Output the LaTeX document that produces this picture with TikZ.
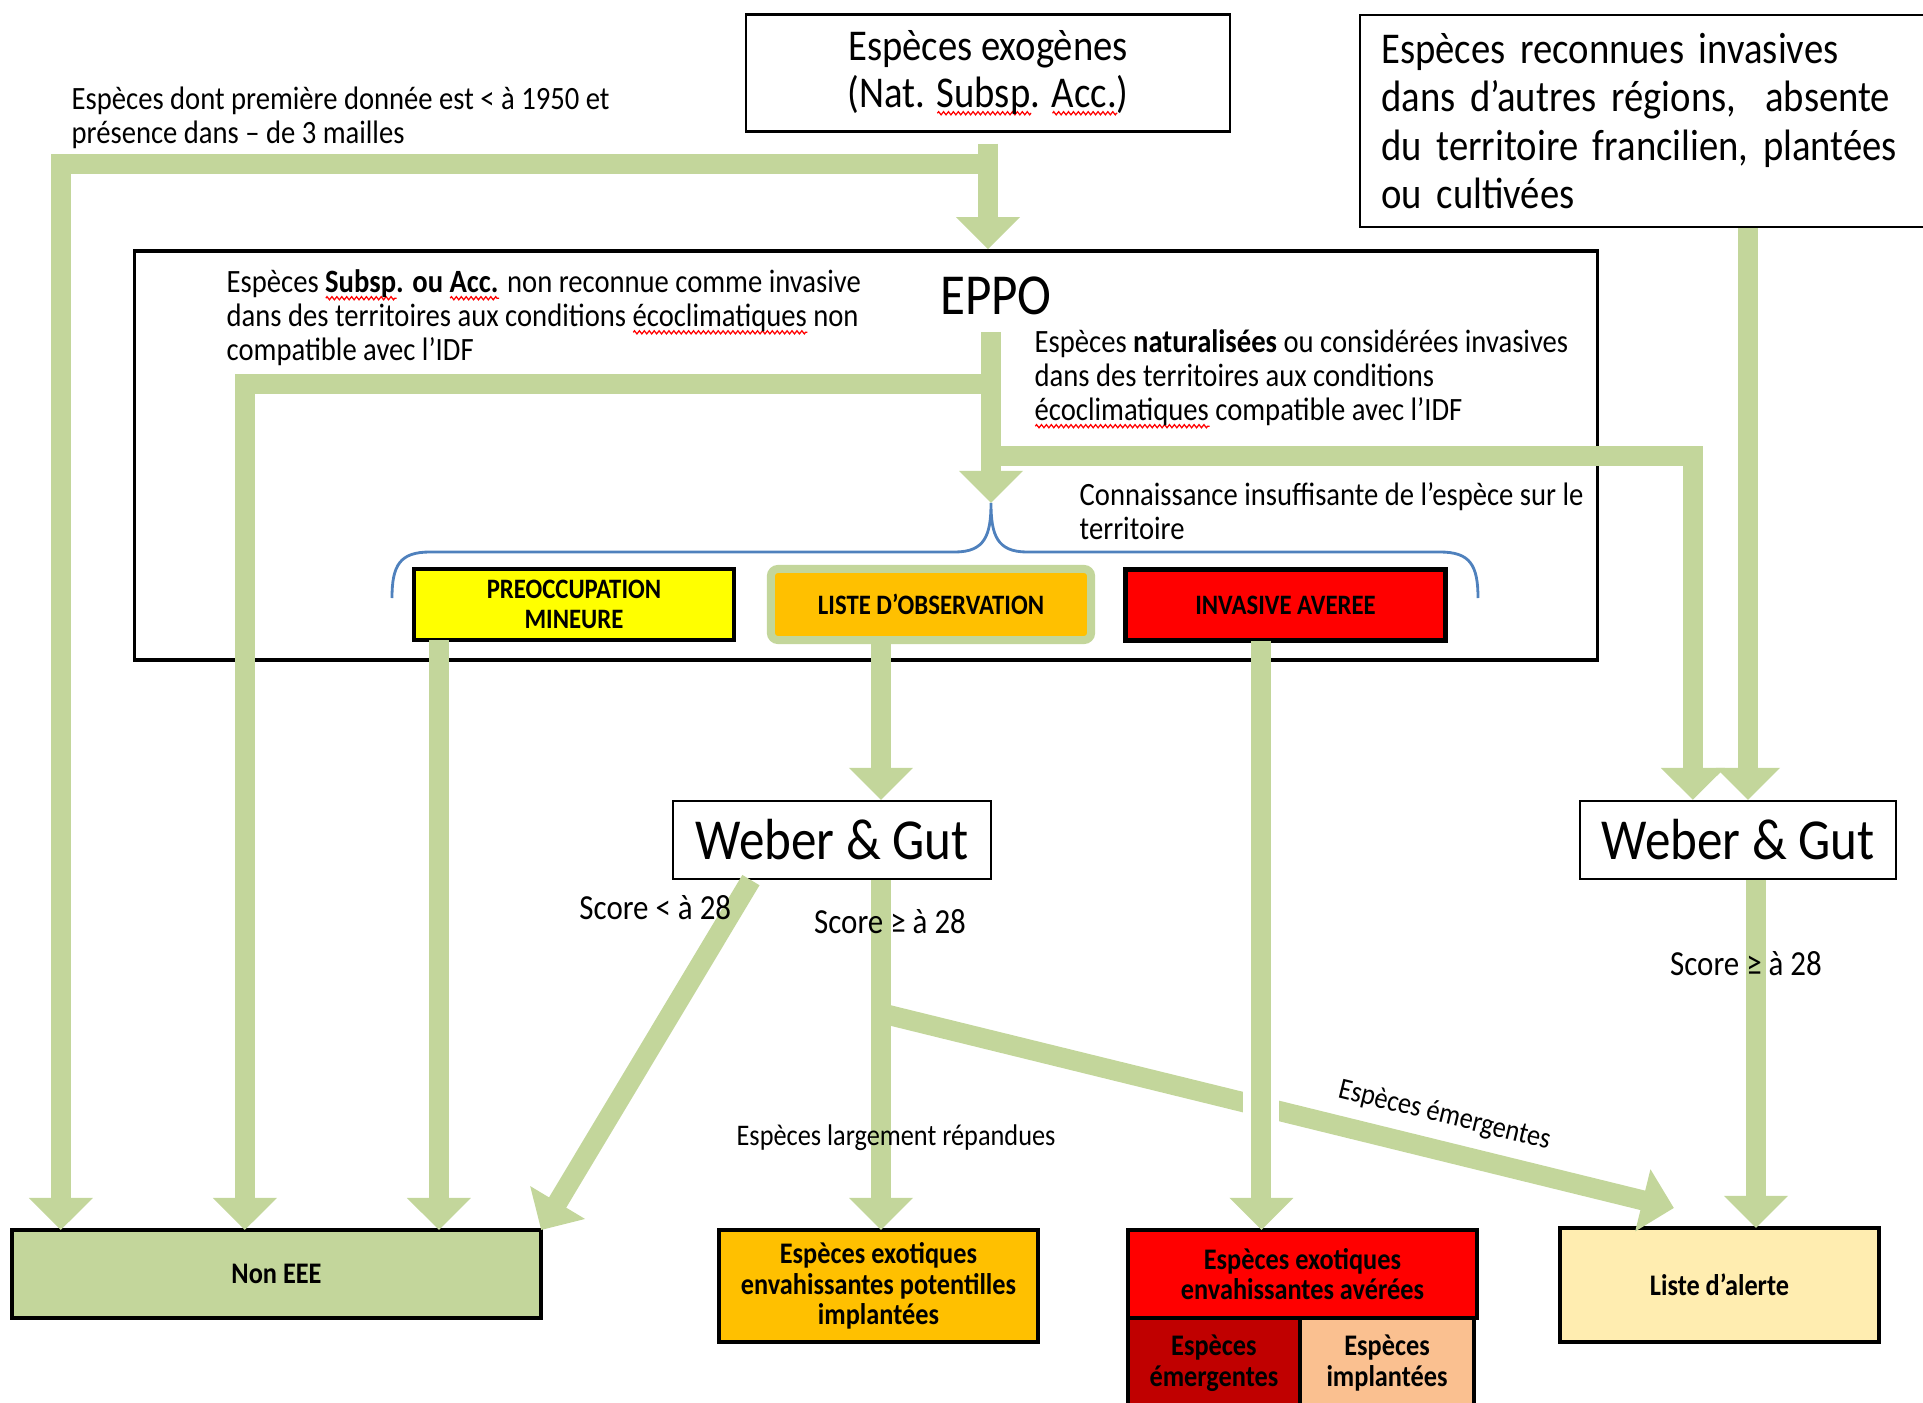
\documentclass[tikz,border=0pt]{standalone}
\usepackage{fontspec}
\setmainfont{Carlito}[FakeStretch=0.88]
\usepackage{tikz}
\usetikzlibrary{arrows.meta,calc,decorations.pathmorphing}

\definecolor{vertfleche}{HTML}{C3D69B}
\definecolor{jaune}{HTML}{FFFF00}
\definecolor{orangeliste}{HTML}{FFC000}
\definecolor{rouge}{HTML}{FF0000}
\definecolor{rougefonce}{HTML}{C00000}
\definecolor{peche}{HTML}{FAC090}
\definecolor{alertefond}{HTML}{FFEDB0}
\definecolor{bleuaccolade}{HTML}{4F81BD}

% souligne ondule rouge (correcteur)
\newlength\largeurmot
\newcommand\ondule[1]{\settowidth\largeurmot{#1}\rlap{\raisebox{-2.2pt}{\tikz\draw[red,line width=0.35pt,decorate,decoration={zigzag,amplitude=0.45pt,segment length=1.4pt}] (0pt,0pt) -- (\largeurmot,0pt);}}#1}

\begin{document}
\begin{tikzpicture}[x=0.01cm,y=-0.01cm]
\tikzset{fleche/.style={draw=vertfleche,line width=0.2cm,-{Triangle[length=0.32cm,width=0.62cm]}}}
\tikzset{boite/.style={draw,line width=0.6pt,inner sep=0,align=center}}
\tikzset{cat/.style={draw,line width=1.3pt,inner sep=0,outer sep=0,align=center,minimum width=3.2cm,minimum height=0.71cm,font=\bfseries\fontsize{8}{8.5}\selectfont}}
\tikzset{case/.style={draw,line width=1.3pt,inner sep=0,outer sep=0,align=center,font=\bfseries\fontsize{8.5}{8.7}\selectfont}}
\tikzset{petit/.style={font=\fontsize{9.25}{9.7}\selectfont,inner sep=0,align=left,anchor=west}}
\tikzset{score/.style={font=\fontsize{10}{11}\selectfont,inner sep=0}}
\useasboundingbox (0,0) rectangle (1923,1403);

% sources
\node[boite,minimum width=4.83cm,minimum height=1.17cm,font=\fontsize{12.5}{13.4}\selectfont] (exogenes) at (988,73) {Espèces exogènes\\(Nat. \ondule{Subsp}. \ondule{Acc.})};
\node[boite,minimum width=5.75cm,minimum height=2.12cm,text width=5.33cm,inner xsep=0.21cm,align=left,font=\fontsize{12.5}{13.7}\selectfont] (reconnues) at (1648,121) {Espèces reconnues invasives\\dans d’autres régions,~ absente\\du territoire francilien, plantées\\ou cultivées};
\node[petit] (txt1950) at (71,117.5) {Espèces dont première donnée est < à 1950 et\\présence dans – de 3 mailles};

% EPPO
\node[draw,line width=1pt,minimum width=14.62cm,minimum height=4.09cm,inner sep=0] (eppo) at (866,455.5) {};
\node[font=\fontsize{16.5}{18}\selectfont,inner sep=0] (eppotitre) at (996,296) {EPPO};
\node[petit] (txtsubsp) at (226,318) {Espèces \textbf{\ondule{Subsp}. ou \ondule{Acc.}} non reconnue comme invasive\\dans des territoires aux conditions \ondule{écoclimatiques} non\\compatible avec l’IDF};
\node[petit] (txtnat) at (1034,379) {Espèces \textbf{naturalisées} ou considérées invasives\\dans des territoires aux conditions\\\ondule{écoclimatiques} compatible avec l’IDF};
\node[petit] (txtconn) at (1079,511) {Connaissance insuffisante de l’espèce sur le\\territoire};
\node[cat,fill=jaune] (preocc) at (574,604.5) {PREOCCUPATION\\MINEURE};
\node[cat,draw=vertfleche,line width=0.08cm,fill=orangeliste,rounded corners=2pt] (liste) at (931,604.5) {LISTE D’OBSERVATION};
\node[cat,fill=rouge] (invasive) at (1285.5,605) {INVASIVE AVEREE};

% evaluation
\node[boite,minimum width=3.18cm,minimum height=0.78cm,font=\fontsize{16.5}{18}\selectfont] (wg1) at (832,840) {Weber \& Gut};
\node[boite,minimum width=3.16cm,minimum height=0.78cm,font=\fontsize{16.5}{18}\selectfont] (wg2) at (1738,840) {Weber \& Gut};

% resultats
\node[case,fill=vertfleche,minimum width=5.29cm,minimum height=0.88cm] (nonEEE) at (276.5,1274) {Non EEE};
\node[case,fill=orangeliste,minimum width=3.19cm,minimum height=1.12cm] (potentielles) at (878.5,1286) {Espèces exotiques\\envahissantes potentilles\\implantées};
\node[case,fill=rouge,minimum width=3.49cm,minimum height=0.88cm] (averees) at (1302.5,1274) {Espèces exotiques\\envahissantes avérées};
\node[case,fill=rougefonce,minimum width=1.72cm,minimum height=0.9cm,anchor=north west] (emergentes) at (averees.south west) {Espèces\\émergentes};
\node[case,fill=peche,minimum width=1.74cm,minimum height=0.9cm,anchor=north west] (implantees) at (emergentes.north east) {Espèces\\implantées};
\node[case,fill=alertefond,minimum width=3.19cm,minimum height=1.14cm] (alerte) at (1719.5,1285) {Liste d’alerte};

% fleches du haut
\coordinate (b1) at ([yshift=-0.31cm]exogenes.south);
\draw[fleche] ([yshift=-0.11cm]exogenes.south) -- (exogenes.south |- eppo.north);
\draw[fleche] (b1) -| ($(nonEEE.north west)+(49,0)$);
\coordinate (pointe) at (991,503);
\coordinate (e0) at ([yshift=-0.165cm]eppotitre.south -| pointe);
\coordinate (e1) at (991,384);
\coordinate (e2) at (991,456);
\draw[fleche] (e0) -- (pointe);
\draw[fleche] (e1) -| ($(nonEEE.north west)+(233,0)$);
\draw[fleche] (e2) -| ($(wg2.north west)+(114,0)$);
\coordinate (wg2n) at ($(wg2.north)+(10,0)$);
\draw[fleche] (reconnues.south -| wg2n) -- (wg2n);
\draw[bleuaccolade,line width=0.8pt] (392,598) .. controls (392,565) and (400,552) .. (430,552) -- (955,552) .. controls (985,552) and (991,535) .. (pointe) .. controls (991,535) and (997,552) .. (1027,552) -- (1440,552) .. controls (1470,552) and (1478,565) .. (1478,598);

% fleches des categories
\draw[fleche] ([xshift=-1.35cm]preocc.south) -- ([xshift=-1.35cm]preocc.south |- nonEEE.north);
\draw[fleche] ([xshift=-0.5cm]liste.south) -- ([xshift=-0.5cm]liste.south |- wg1.north);

% fleches Weber & Gut
\draw[fleche] ([xshift=-0.81cm]wg1.south) -- (nonEEE.north east) node[score,pos=0.08,left=-2pt] {Score < à 28};
\coordinate (depart) at ([xshift=0.49cm,yshift=-1.33cm]wg1.south);
\draw[fleche] (depart) -- ($(alerte.north west)+(114,-20)$) node[sloped,pos=0.7,above=0.12cm,font=\fontsize{8.5}{9}\selectfont,inner sep=0] {Espèces émergentes};
\draw[fleche] ([xshift=0.49cm]wg1.south) -- ([xshift=0.49cm]wg1.south |- potentielles.north)
  node[score,pos=0.12,xshift=0.09cm] {Score ≥ à 28}
  node[pos=0.735,xshift=0.15cm,font=\fontsize{8.5}{9}\selectfont,inner sep=0] {Espèces largement répandues};
\draw[white,line width=0.36cm] (1261,1070) -- (1261,1145);
\coordinate (inv) at ([xshift=-0.24cm]invasive.south);
\draw[fleche] (inv) -- (inv |- averees.north);
\draw[fleche] ([xshift=0.18cm]wg2.south) -- ([xshift=0.18cm]wg2.south |- alerte.north) node[score,pos=0.24,xshift=-0.1cm] {Score ≥ à 28};
\end{tikzpicture}
\end{document}
